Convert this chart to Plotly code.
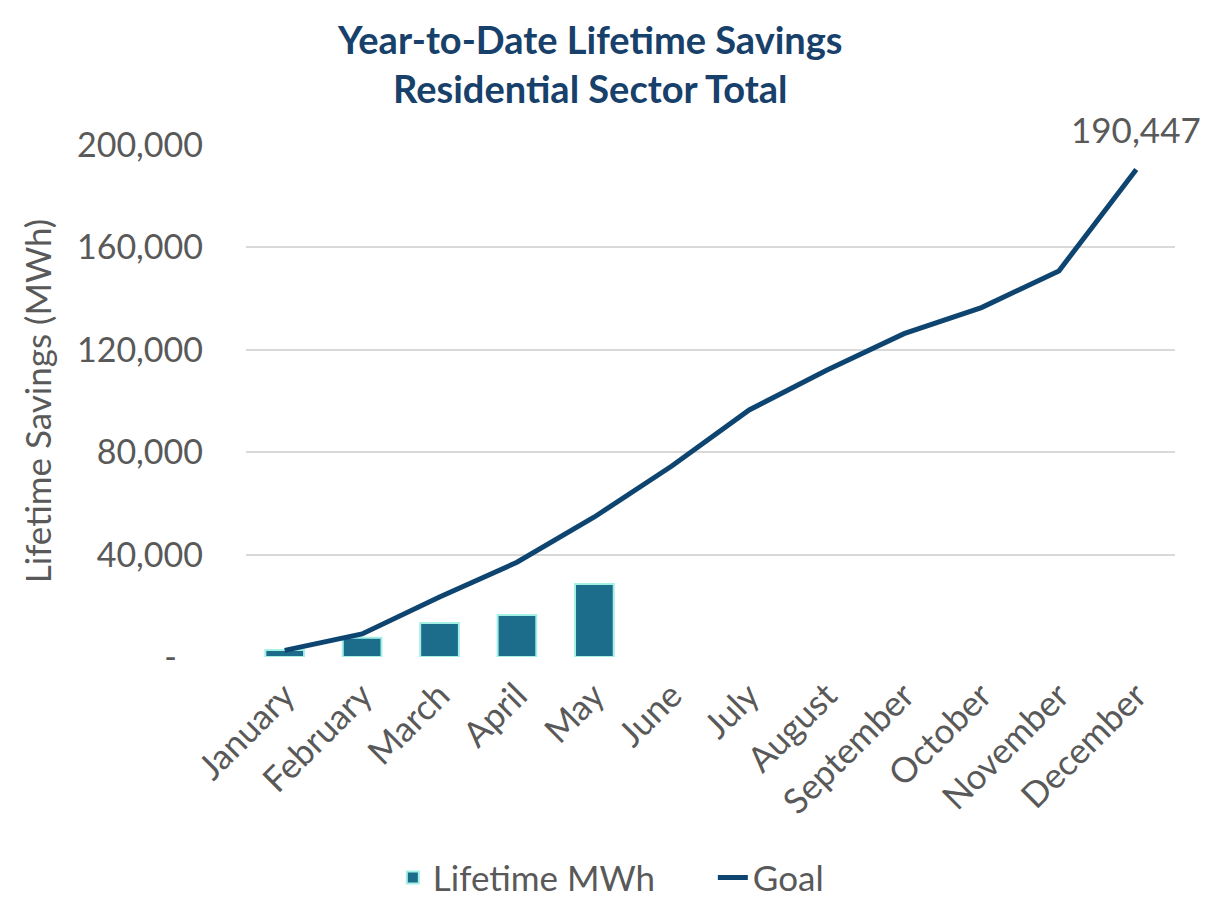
import plotly.graph_objects as go

# --- data ---
months = ["January", "February", "March", "April", "May", "June",
          "July", "August", "September", "October", "November", "December"]
lifetime_mwh = [2700, 7500, 13300, 16400, 28500]
goal = [2600, 9000, 23400, 37000, 54700, 74600, 96500, 112000, 126300, 136500, 150800, 190447]
y_ticks = [0, 40000, 80000, 120000, 160000, 200000]
y_tick_labels = ["-" + "\u00a0" * 3, "40,000", "80,000", "120,000", "160,000", "200,000"]

GRAY = "#595959"
FONT = "Lato"

fig = go.Figure()

fig.add_trace(go.Bar(
    x=months[:len(lifetime_mwh)], y=lifetime_mwh,
    name="Lifetime MWh",
    marker=dict(color="#1c6c8b", line=dict(color="#a4f0e6", width=2)),
    width=0.5,
))

fig.add_trace(go.Scatter(
    x=months, y=goal,
    name="Goal",
    mode="lines",
    line=dict(color="#0e4570", width=5),
))

# label on the last goal point
fig.add_annotation(
    x=months[-1], y=goal[-1],
    text=f"{goal[-1]:,}",
    showarrow=False, yanchor="bottom", yshift=17,
    font=dict(family=FONT, size=35, color=GRAY),
)

# chart title (annotation keeps the two lines inside the page)
fig.add_annotation(
    xref="paper", yref="paper", x=0.37, y=1.16,
    xanchor="center", yanchor="middle",
    text="<b>Year-to-Date Lifetime Savings<br>Residential Sector Total</b>",
    showarrow=False,
    font=dict(family=FONT, size=38, color="#17406a"),
)

# page body adds 8px margin, so the figure is 8px smaller than the window
fig.update_layout(
    width=1214, height=893,
    paper_bgcolor="white", plot_bgcolor="white",
    margin=dict(l=238, r=47, t=137, b=244, autoexpand=False),
    font=dict(family=FONT, color=GRAY),
    showlegend=True,
    legend=dict(
        orientation="h", xref="container", x=0.317, xanchor="left",
        yref="container", y=0.026, yanchor="middle",
        entrywidth=275,
        font=dict(size=35, color=GRAY),
    ),
    bargap=0.5,
)

fig.update_xaxes(
    tickangle=-45,
    tickfont=dict(size=35, color=GRAY),
    ticklabelstandoff=10,
    showline=False, showgrid=False, automargin=False,
    ticks="", range=[-0.5, 11.5],
)

fig.update_yaxes(
    range=[0, 200000],
    tickvals=y_ticks, ticktext=y_tick_labels,
    tickfont=dict(size=34, color=GRAY),
    ticklabelstandoff=42,
    gridcolor="#d9d9d9", gridwidth=2,
    zeroline=False, ticks="", automargin=False,
    title=dict(text="Lifetime Savings (MWh)", font=dict(size=35, color=GRAY), standoff=14),
)

fig.write_html("out.html")
